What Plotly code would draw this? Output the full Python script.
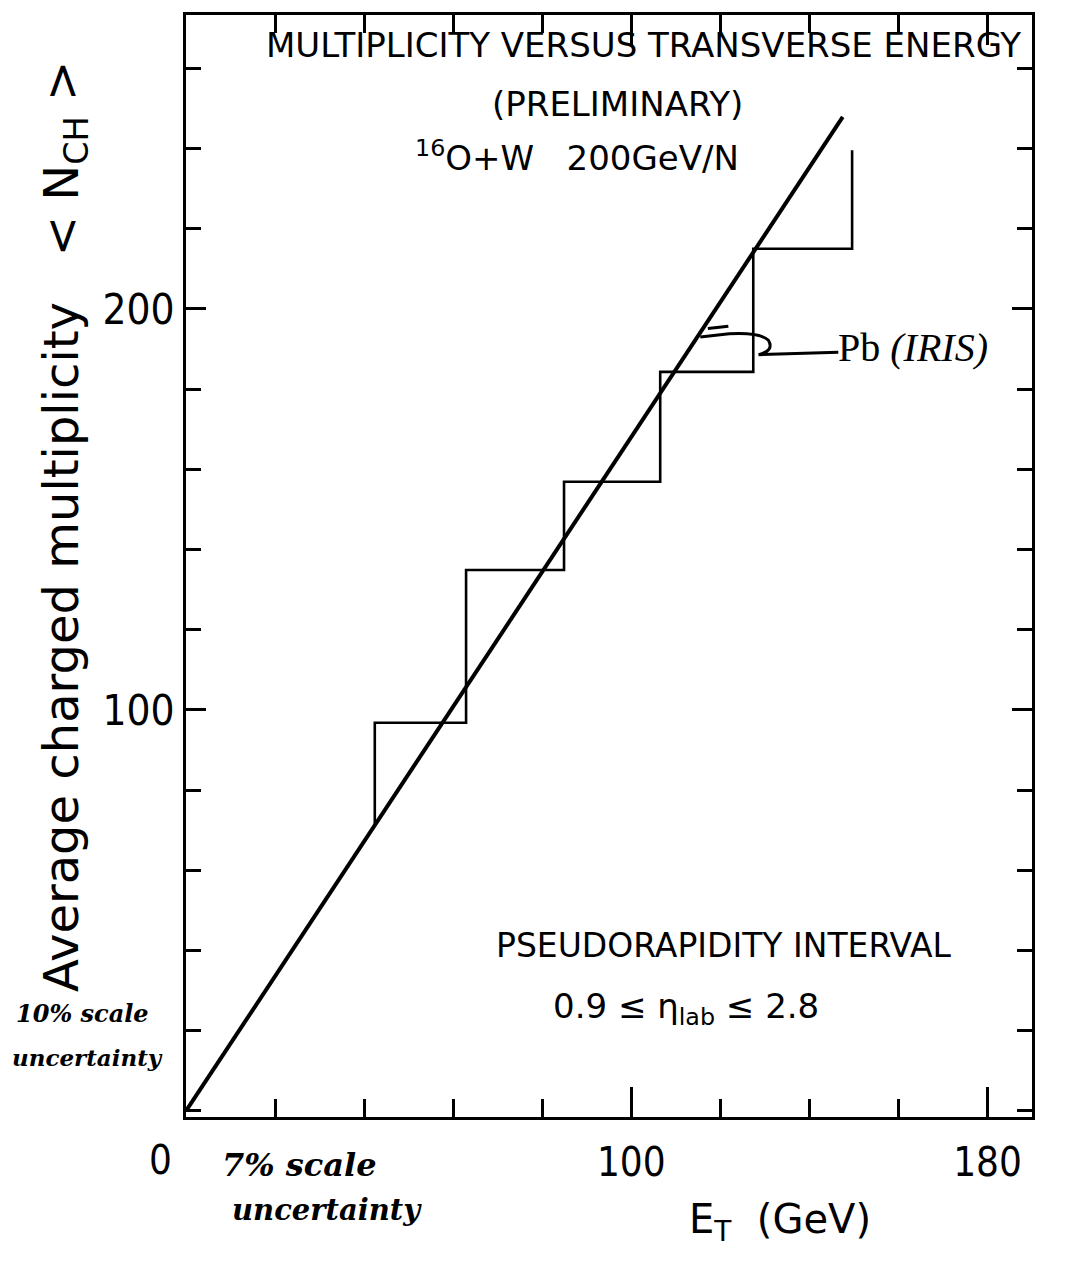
import plotly.graph_objects as go

# Multiplicity vs transverse energy, 16O+W at 200 GeV/N
# Linear fit (end points in E_T [GeV], <N_CH>)
fit_et = [0.0, 147.5]
fit_nch = [0.0, 247.9]

# Pb (IRIS) histogram: bin edges in E_T and mean multiplicity per bin
pb_edges = [42.4, 62.9, 84.9, 106.5, 127.4, 149.6]
pb_nch = [96.8, 134.9, 156.9, 184.3, 215.0]
pb_low_cap = 71.5     # lower end of the first vertical
pb_high_cap = 239.6   # upper end of the last vertical

x_ticks = [100, 180]
y_ticks = [100, 200]

NUM = "DejaVu Sans Condensed, DejaVu Sans"
FONT = "DejaVu Sans"
HAND = "DejaVu Serif"

# step outline of the histogram
step_x = [pb_edges[0]]
step_y = [pb_low_cap]
for i, v in enumerate(pb_nch):
    step_x += [pb_edges[i], pb_edges[i + 1]]
    step_y += [v, v]
step_x.append(pb_edges[-1])
step_y.append(pb_high_cap)

fig = go.Figure()
fig.add_trace(go.Scatter(x=step_x, y=step_y, mode="lines",
                         line=dict(color="black", width=2.6),
                         hoverinfo="skip", showlegend=False))
fig.add_trace(go.Scatter(x=fit_et, y=fit_nch, mode="lines",
                         line=dict(color="black", width=4),
                         hoverinfo="skip", showlegend=False))

# curly pointer from the Pb label to the line
fig.add_shape(type="path",
              path="M 115.5,193.0 L 122,193.8 Q 129,194.2 130.8,192.2 Q 132.2,189.6 128.6,188.6 L 146.5,189.2",
              xref="x", yref="y", line=dict(color="black", width=3))
fig.add_shape(type="path",
              path="M 117.2,195.1 L 121.8,195.7",
              xref="x", yref="y", line=dict(color="black", width=3))


def px(x):
    return (x - 186) / 846


def py(y):
    return (1117 - y) / 1102


def note(text, x, y, size, xanchor="center", font=FONT, angle=0):
    fig.add_annotation(text=text, x=px(x), y=py(y), xref="paper", yref="paper",
                       showarrow=False, xanchor=xanchor, yanchor="middle",
                       textangle=angle,
                       font=dict(family=font, size=size, color="black"))


note("MULTIPLICITY VERSUS TRANSVERSE ENERGY", 643, 45, 34)
note("(PRELIMINARY)", 617, 104, 34)
note("<sup>16</sup>O+W   200GeV/N", 413, 156, 34, xanchor="left")
note("Pb <i>(IRIS)</i>", 836, 348, 40, xanchor="left", font="Liberation Serif")
note("PSEUDORAPIDITY INTERVAL", 724, 945, 33)
note("0.9 ≤ η<sub>lab</sub> ≤ 2.8", 551, 1008, 34, xanchor="left")
note("0", 160, 1160, 40, font=NUM)
note("E<sub>T</sub>  (GeV)", 687, 1222, 40, xanchor="left")
note("Average charged multiplicity   &lt; N<sub>CH</sub> &gt;", 64, 527, 48, angle=-90)
note("<b><i>10% scale</i></b>", 14, 1013, 24, xanchor="left", font=HAND)
note("<b><i>uncertainty</i></b>", 10, 1057, 23, xanchor="left", font=HAND)
note("<b><i>7% scale</i></b>", 220, 1165, 32, xanchor="left", font=HAND)
note("<b><i>uncertainty</i></b>", 230, 1210, 29, xanchor="left", font=HAND)

fig.update_xaxes(range=[0, 190], showline=True, linewidth=3, linecolor="black",
                 mirror="ticks", ticks="inside", ticklen=30, tickwidth=2.5,
                 tickcolor="black", tickvals=x_ticks,
                 ticktext=[str(v) for v in x_ticks],
                 tickfont=dict(family=NUM, size=40, color="black"),
                 ticklabelstandoff=8,
                 minor=dict(ticks="inside", dtick=20, tick0=0, ticklen=18,
                            tickwidth=2.5, tickcolor="black"),
                 showgrid=False, zeroline=False, fixedrange=True)
fig.update_yaxes(range=[-1.5, 273.3], showline=True, linewidth=3, linecolor="black",
                 mirror="ticks", ticks="inside", ticklen=20, tickwidth=2.5,
                 tickcolor="black", tickvals=y_ticks,
                 ticktext=[str(v) for v in y_ticks],
                 tickfont=dict(family=NUM, size=42, color="black"),
                 ticklabelstandoff=0,
                 minor=dict(ticks="inside", dtick=20, tick0=0, ticklen=15,
                            tickwidth=2.5, tickcolor="black"),
                 showgrid=False, zeroline=False, fixedrange=True)

fig.update_layout(width=1066, height=1263,
                  margin=dict(l=186, r=34, t=15, b=146),
                  plot_bgcolor="white", paper_bgcolor="white",
                  showlegend=False)

fig.write_html("out.html", config={"displayModeBar": False})
